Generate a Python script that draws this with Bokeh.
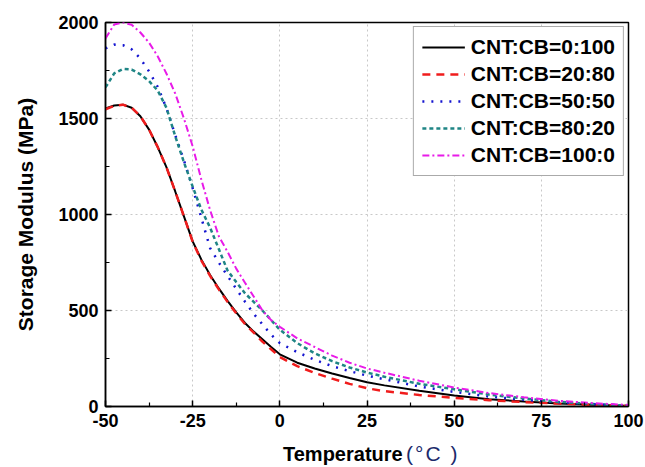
from bokeh.plotting import figure
from bokeh.models import Range1d, FixedTicker, Legend, Div
from bokeh.layouts import column
from bokeh.embed import file_html
from bokeh.resources import INLINE

# ---- data ----
temperature = [-50, -47.5, -45, -42.5, -40, -37.5, -35, -32.5, -30, -27.5, -25, -22.5,
               -20, -17.5, -15, -12.5, -10, -7.5, -5, -2.5, 0, 5, 10, 15, 20, 25, 30,
               40, 50, 60, 70, 80, 90, 100]

cnt_cb_0_100 = [1552, 1568, 1572, 1556, 1512, 1442, 1350, 1245, 1120, 990, 860, 765,
                685, 615, 550, 490, 435, 390, 350, 310, 272, 228, 198, 172, 148, 126, 110,
                82, 57, 38, 26, 16, 9, 3]
cnt_cb_20_80 = [1548, 1566, 1572, 1556, 1512, 1442, 1350, 1245, 1120, 990, 858, 760,
                680, 610, 545, 485, 430, 385, 338, 298, 258, 210, 175, 145, 118, 95, 80,
                60, 45, 33, 23, 15, 8, 3]
cnt_cb_50_50 = [1865, 1885, 1882, 1860, 1812, 1745, 1664, 1553, 1414, 1282, 1137, 982,
                825, 750, 680, 613, 546, 483, 428, 374, 330, 283, 243, 210, 184, 161, 142,
                104, 76, 52, 35, 22, 12, 4]
cnt_cb_80_20 = [1662, 1735, 1758, 1755, 1730, 1695, 1645, 1555, 1408, 1272, 1145, 1025,
                932, 820, 708, 648, 590, 545, 500, 450, 400, 330, 277, 236, 203, 177, 155,
                118, 90, 62, 42, 24, 13, 4]
cnt_cb_100_0 = [1917, 1990, 2000, 1988, 1948, 1895, 1823, 1733, 1630, 1500, 1355, 1181,
                1023, 887, 806, 718, 645, 573, 500, 450, 415, 355, 310, 265, 228, 198, 176,
                134, 99, 70, 48, 30, 17, 8]

series_labels = ["CNT:CB=0:100", "CNT:CB=20:80", "CNT:CB=50:50", "CNT:CB=80:20", "CNT:CB=100:0"]
x_ticks = [-50, -25, 0, 25, 50, 75, 100]
x_minor = [-37.5, -12.5, 12.5, 37.5, 62.5, 87.5]
y_ticks = [0, 500, 1000, 1500, 2000]
y_minor = [250, 750, 1250, 1750]
x_title = "Temperature"
x_unit = "(\u00b0C )"
y_title = "Storage Modulus (MPa)"

FONT = "Liberation Sans"

p = figure(width=645, height=437, output_backend="svg", toolbar_location=None,
           x_range=Range1d(-50, 100), y_range=Range1d(0, 2000),
           min_border_left=105, min_border_right=17, min_border_top=22, min_border_bottom=31)
p.background_fill_color = "white"
p.border_fill_color = "white"
p.outline_line_color = "black"
p.outline_line_width = 1.5

styles = [
    (cnt_cb_0_100, "#000000", "solid", 2.0),
    (cnt_cb_20_80, "#f01c1c", "8 6", 2.5),
    (cnt_cb_50_50, "#1515d0", "2 7", 2.5),
    (cnt_cb_80_20, "#1f8585", "4 3", 2.5),
    (cnt_cb_100_0, "#e81be8", "7 3 2 3", 2.0),
]
items = []
for (vals, col, dash, w), lab in zip(styles, series_labels):
    r = p.line(temperature, vals, line_color=col, line_dash=dash, line_width=w)
    items.append((lab, [r]))

legend = Legend(items=items, location="top_right")
legend.label_text_font = FONT
legend.label_text_font_size = "21px"
legend.label_text_font_style = "bold"
legend.label_text_color = "black"
legend.glyph_width = 43
legend.glyph_height = 20
legend.label_standoff = 6
legend.spacing = 3
legend.padding = 8
legend.margin = 4
legend.border_line_color = "#555555"
legend.border_line_width = 1
legend.background_fill_alpha = 1.0
p.add_layout(legend)

for ax in (p.xaxis[0], p.yaxis[0]):
    ax.axis_line_width = 1.5
    ax.axis_line_color = "black"
    ax.major_tick_in = 6
    ax.major_tick_out = 0
    ax.minor_tick_in = 4
    ax.minor_tick_out = 0
    ax.major_tick_line_width = 1.5
    ax.minor_tick_line_width = 1.2
    ax.major_label_text_font = FONT
    ax.major_label_text_font_size = "18px"
    ax.major_label_text_font_style = "bold"
    ax.major_label_text_color = "black"
    ax.major_label_standoff = 7

p.xaxis.ticker = FixedTicker(ticks=x_ticks, minor_ticks=x_minor)
p.yaxis.ticker = FixedTicker(ticks=y_ticks, minor_ticks=y_minor)
p.xaxis.major_label_overrides = {t: str(t) for t in x_ticks}

p.yaxis.axis_label = y_title
p.yaxis.axis_label_text_font = FONT
p.yaxis.axis_label_text_font_size = "21px"
p.yaxis.axis_label_text_font_style = "bold"
p.yaxis.axis_label_text_color = "black"
p.yaxis.axis_label_standoff = 18

for g in (p.xgrid[0], p.ygrid[0]):
    g.grid_line_color = "#c8c8c8"
    g.grid_line_dash = "2 3"
    g.grid_line_width = 1

html = ('<div style="padding-left:283px;padding-top:6px;line-height:22px;white-space:nowrap;">'
        '<span style="font-family:\'Liberation Sans\';font-weight:bold;font-size:20px;color:#000;">'
        + x_title + '</span>&nbsp;'
        '<span style="font-family:\'Liberation Sans\';font-size:21px;letter-spacing:2px;color:#1c2a6b;">'
        + x_unit + '</span></div>')
xlabel = Div(text=html, width=645, height=30, margin=0)

layout = column(p, xlabel, spacing=0)
open("out.html", "w").write(file_html(layout, INLINE))
